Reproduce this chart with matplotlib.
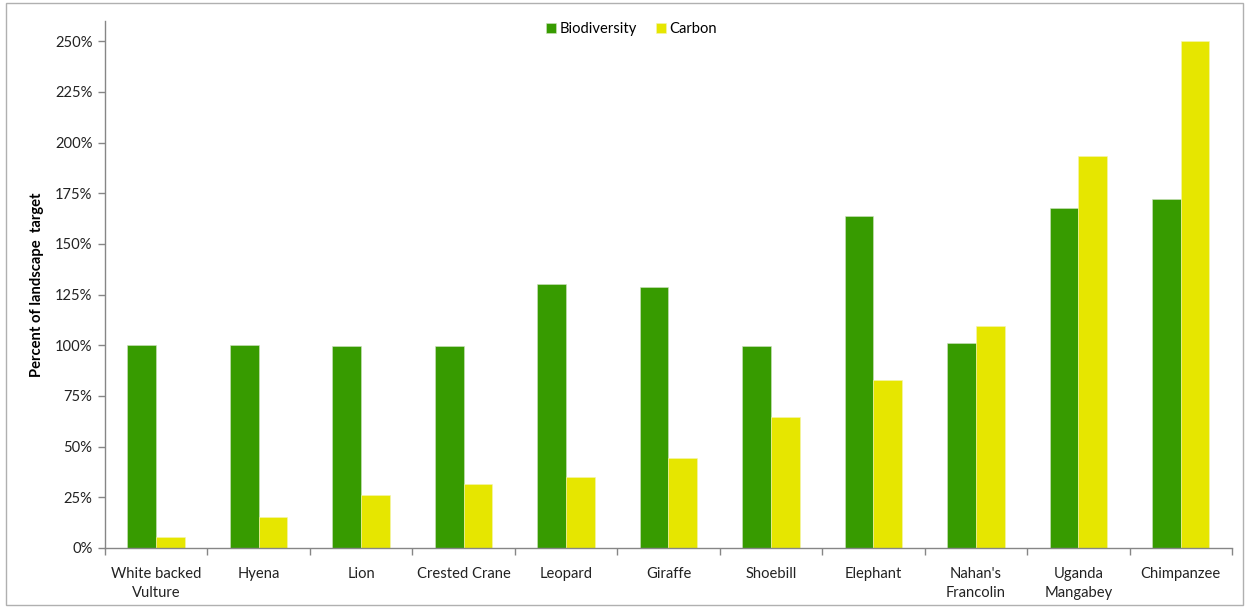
import numpy as np
import matplotlib
matplotlib.use('Agg')
import matplotlib.pyplot as plt
from matplotlib.patches import Rectangle
from matplotlib.ticker import FuncFormatter

plt.rcParams['font.family'] = ['Lato', 'DejaVu Sans']

# data
species = ['White backed\nVulture', 'Hyena', 'Lion', 'Crested Crane', 'Leopard',
           'Giraffe', 'Shoebill', 'Elephant', "Nahan's\nFrancolin",
           'Uganda\nMangabey', 'Chimpanzee']
biodiversity = [100.3, 100.2, 99.6, 99.6, 130.0, 128.6, 99.6, 164.0, 101.0, 167.5, 172.0]
carbon = [5.5, 15.4, 26.0, 31.5, 35.2, 44.6, 64.4, 83.0, 109.7, 193.4, 250.2]

green = '#379b00'
yellow = '#e6e600'
grey = '#868686'

fig = plt.figure(figsize=(12.49, 6.08), dpi=100)
ax = fig.add_axes([0.084, 0.0987, 0.9024, 0.8668])

x = np.arange(len(species))
w = 0.28
ax.bar(x - w/2, biodiversity, w, color=green, label='Biodiversity', edgecolor='#cfe3c0', linewidth=0.4)
ax.bar(x + w/2, carbon, w, color=yellow, label='Carbon', edgecolor='#f4f4b0', linewidth=0.4)

ax.set_xlim(-0.5, len(species) - 0.5)
ax.set_ylim(0, 260)
ax.set_yticks(np.arange(0, 251, 25))
ax.yaxis.set_major_formatter(FuncFormatter(lambda v, p: '%d%%' % v))

# category labels sit between the boundary ticks
ax.set_xticks(x)
ax.set_xticklabels(species, fontsize=10.6, color='#222222', linespacing=1.4)
ax.tick_params(axis='x', length=0, pad=14)
ax.set_xticks(np.arange(-0.5, len(species)), minor=True)
ax.tick_params(axis='x', which='minor', length=5, color=grey, width=1)
ax.tick_params(axis='y', length=5, color=grey, width=1, labelsize=10.6, labelcolor='#222222', pad=4)

for s in ['top', 'right']:
    ax.spines[s].set_visible(False)
for s in ['left', 'bottom']:
    ax.spines[s].set_color(grey)
    ax.spines[s].set_linewidth(1)

ax.set_ylabel('Percent of landscape  target', fontsize=10.6, fontweight='bold', labelpad=8)

ax.legend(loc='center', bbox_to_anchor=(0.467, 0.985), ncol=2, frameon=False,
          fontsize=10.6, handlelength=0.7, handleheight=0.7, handletextpad=0.2,
          columnspacing=1.3)

# outer chart border
fig.patches.append(Rectangle((0.005, 0.005), 0.99, 0.99, transform=fig.transFigure,
                             fill=False, edgecolor='#b0b0b0', linewidth=1))

fig.savefig('out.png', dpi=100)
